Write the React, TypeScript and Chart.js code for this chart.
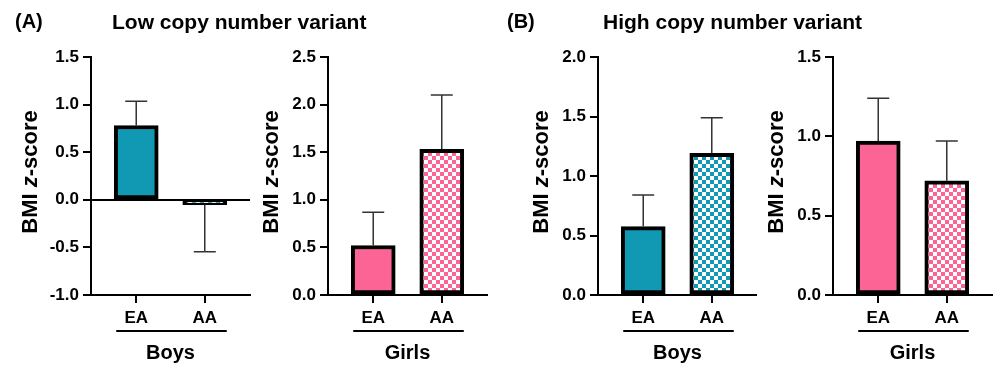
import React, { useEffect, useRef } from 'react';
import { Chart, registerables } from 'chart.js';

Chart.register(...registerables);

// ---- data ----
const categories = ['EA', 'AA'];
const groupLabels = ['Boys', 'Girls', 'Boys', 'Girls'];
const yTitleParts = [
  { text: 'BMI ', italic: false },
  { text: 'z', italic: true },
  { text: '-score', italic: false },
];

const lowBoysMean = [0.78, -0.05];
const lowBoysErr = [0.255, 0.495];
const lowGirlsMean = [0.52, 1.53];
const lowGirlsErr = [0.35, 0.57];
const highBoysMean = [0.575, 1.19];
const highBoysErr = [0.265, 0.3];
const highGirlsMean = [0.97, 0.72];
const highGirlsErr = [0.27, 0.25];

const yRanges = [
  [-1, 1.5],
  [0, 2.5],
  [0, 2],
  [0, 1.5],
];

const panelLetters = ['(A)', '(B)'];
const panelTitles = ['Low copy number variant', 'High copy number variant'];

const TEAL = '#1198b2';
const PINK = '#fd6496';
const FONT = '"Liberation Sans", Arial, Helvetica, sans-serif';

// ---- layout ----
const panels = [
  { mean: lowBoysMean, err: lowBoysErr, color: TEAL, left: 0, axisX: 91, width: 252, titleOff: 60 },
  { mean: lowGirlsMean, err: lowGirlsErr, color: PINK, left: 252, axisX: 328, width: 238, titleOff: 56 },
  { mean: highBoysMean, err: highBoysErr, color: TEAL, left: 490, axisX: 598, width: 267, titleOff: 56 },
  { mean: highGirlsMean, err: highGirlsErr, color: PINK, left: 757, axisX: 833, width: 236, titleOff: 56 },
];
const PLOT_W = 159;
const H = 365;

function makeChecker(color: string): CanvasPattern | string {
  const c = document.createElement('canvas');
  c.width = 8;
  c.height = 8;
  const g = c.getContext('2d');
  if (!g) return color;
  g.fillStyle = '#ffffff';
  g.fillRect(0, 0, 8, 8);
  g.fillStyle = color;
  g.fillRect(0, 0, 4, 4);
  g.fillRect(4, 4, 4, 4);
  return g.createPattern(c, 'repeat') || color;
}

function Panel({ idx }: { idx: number }) {
  const ref = useRef<HTMLCanvasElement | null>(null);
  const p = panels[idx];
  useEffect(() => {
    if (!ref.current) return;
    const yW = p.axisX - p.left;
    const padRight = p.width - yW - PLOT_W;
    const [yMin, yMax] = yRanges[idx];
    const hasNeg = yMin < 0;

    const errorPlugin = {
      id: 'errBars' + idx,
      afterDatasetsDraw(chart: any) {
        const ctx = chart.ctx;
        const xs = chart.scales.x;
        const ys = chart.scales.y;
        ctx.save();
        ctx.strokeStyle = '#333';
        ctx.lineWidth = 1.5;
        p.mean.forEach((m: number, i: number) => {
          const sign = m >= 0 ? 1 : -1;
          const x = xs.getPixelForValue(i);
          const y0 = ys.getPixelForValue(m);
          const y1 = ys.getPixelForValue(m + sign * p.err[i]);
          ctx.beginPath();
          ctx.moveTo(x, y0);
          ctx.lineTo(x, y1);
          ctx.moveTo(x - 11, y1);
          ctx.lineTo(x + 11, y1);
          ctx.stroke();
        });
        ctx.restore();
      },
    };

    const decoPlugin = {
      id: 'deco' + idx,
      afterDraw(chart: any) {
        const ctx = chart.ctx;
        const xs = chart.scales.x;
        const area = chart.chartArea;
        ctx.save();
        // group underline
        ctx.strokeStyle = '#000';
        ctx.lineWidth = 2;
        const uy = area.bottom + 36;
        ctx.beginPath();
        ctx.moveTo(xs.getPixelForValue(0) - 20, uy);
        ctx.lineTo(xs.getPixelForValue(categories.length - 1) + 22, uy);
        ctx.stroke();
        // y title with italic z
        const fonts = yTitleParts.map((t) => (t.italic ? 'italic bold 22px ' : 'bold 22px ') + FONT);
        const widths = yTitleParts.map((t, i) => {
          ctx.font = fonts[i];
          return ctx.measureText(t.text).width;
        });
        const total = widths.reduce((a, b) => a + b, 0);
        ctx.translate(area.left - p.titleOff, (area.top + area.bottom) / 2 - 4);
        ctx.rotate(-Math.PI / 2);
        ctx.fillStyle = '#000';
        ctx.textBaseline = 'middle';
        ctx.textAlign = 'left';
        let x = -total / 2;
        yTitleParts.forEach((t, i) => {
          ctx.font = fonts[i];
          ctx.fillText(t.text, x, 0);
          x += widths[i];
        });
        ctx.restore();
      },
    };

    const chart = new Chart(ref.current, {
      type: 'bar',
      data: {
        datasets: [
          {
            data: p.mean.map((v: number, i: number) => ({ x: i, y: v })),
            backgroundColor: [p.color, makeChecker(p.color)],
            borderColor: '#000',
            borderWidth: 4,
            borderSkipped: false,
            barThickness: 44,
          } as any,
        ],
      },
      options: {
        animation: false,
        responsive: false,
        events: [],
        layout: { padding: { top: 57, right: padRight, bottom: 0, left: 0 } },
        plugins: { legend: { display: false }, tooltip: { enabled: false }, title: { display: false } },
        scales: {
          x: {
            type: 'linear',
            min: -0.66,
            max: 1.66,
            offset: false,
            afterBuildTicks: (s: any) => {
              s.ticks = categories.map((_, i) => ({ value: i }));
            },
            afterFit: (s: any) => {
              s.height = 70;
            },
            ticks: {
              callback: (v: any) => categories[v as number],
              font: { family: FONT, size: 17, weight: 'bold' },
              color: '#000',
              padding: 5,
              autoSkip: false,
              maxRotation: 0,
            },
            grid: {
              display: true,
              offset: false,
              drawOnChartArea: false,
              drawTicks: true,
              tickLength: 8,
              color: '#000',
              lineWidth: 2,
            },
            border: { display: true, color: '#000', width: 2 },
            title: {
              display: true,
              text: groupLabels[idx],
              font: { family: FONT, size: 20, weight: 'bold' },
              color: '#000',
              padding: { top: 0, bottom: 0 },
            },
          } as any,
          y: {
            min: yMin,
            max: yMax,
            afterFit: (s: any) => {
              s.width = yW;
            },
            ticks: {
              stepSize: 0.5,
              callback: (v: any) => Number(v).toFixed(1),
              font: { family: FONT, size: 17, weight: 'bold' },
              color: '#000',
              padding: 4,
            },
            grid: {
              drawOnChartArea: hasNeg,
              drawTicks: true,
              tickLength: 8,
              color: (c: any) => (c.tick && c.tick.value === 0 ? '#000' : 'rgba(0,0,0,0)'),
              tickColor: '#000',
              lineWidth: 2,
            },
            border: { display: true, color: '#000', width: 2 },
          } as any,
        },
      },
      plugins: [errorPlugin, decoPlugin],
    } as any);
    return () => chart.destroy();
  }, [idx]);
  return (
    <canvas
      ref={ref}
      width={p.width}
      height={H}
      style={{ position: 'absolute', left: p.left, top: 0, width: p.width, height: H }}
    />
  );
}

const textStyle: React.CSSProperties = {
  position: 'absolute',
  fontFamily: FONT,
  fontWeight: 'bold',
  color: '#000',
  whiteSpace: 'nowrap',
};

export default function App() {
  return (
    <div style={{ position: 'absolute', left: 0, top: 0, width: 993, height: H, background: '#fff', overflow: 'hidden' }}>
      {panels.map((_, i) => (
        <Panel key={i} idx={i} />
      ))}
      <div style={{ ...textStyle, left: 15, top: 11, fontSize: 20, lineHeight: '20px' }}>{panelLetters[0]}</div>
      <div style={{ ...textStyle, left: 112, top: 11, fontSize: 21, lineHeight: '21px' }}>{panelTitles[0]}</div>
      <div style={{ ...textStyle, left: 507, top: 11, fontSize: 20, lineHeight: '20px' }}>{panelLetters[1]}</div>
      <div style={{ ...textStyle, left: 603, top: 11, fontSize: 21, lineHeight: '21px' }}>{panelTitles[1]}</div>
    </div>
  );
}
